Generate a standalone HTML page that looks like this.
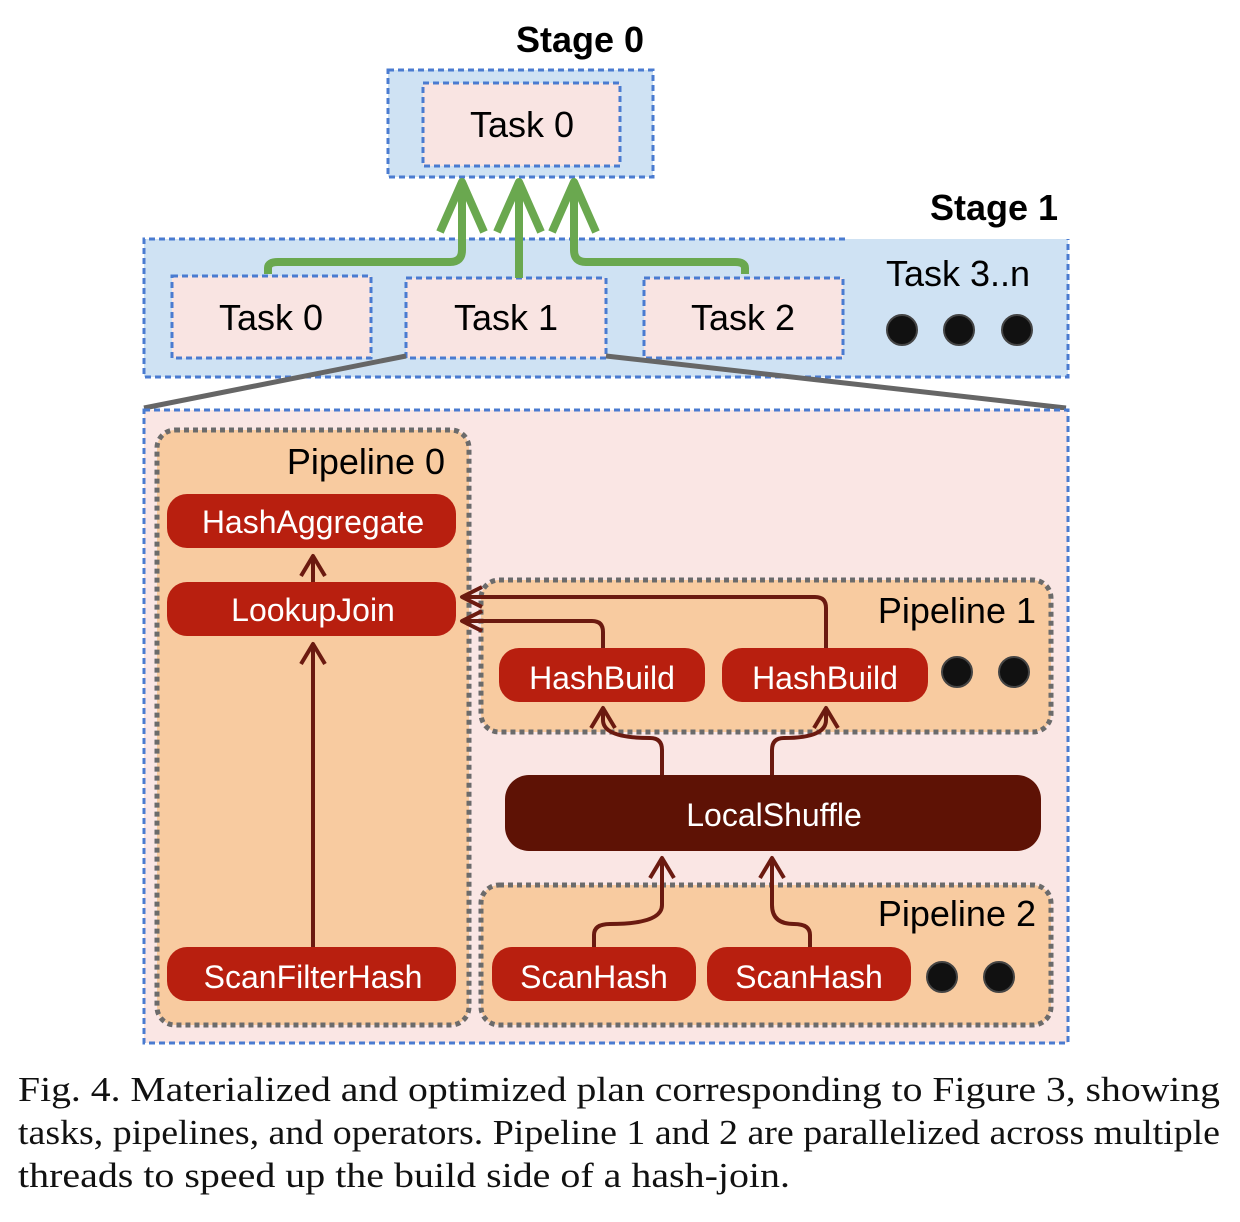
<!DOCTYPE html>
<html><head><meta charset="utf-8"><style>html,body{margin:0;padding:0;background:#fff}svg{display:block}</style></head><body>
<svg width="1240" height="1222" viewBox="0 0 1240 1222" xmlns="http://www.w3.org/2000/svg" font-family="Liberation Sans, sans-serif">
<!-- Stage 0 -->
<text x="580" y="52" font-size="36" font-weight="bold" text-anchor="middle">Stage 0</text>
<rect x="388" y="70" width="265" height="107" fill="#cfe2f3" stroke="#4a7bd0" stroke-width="3" stroke-dasharray="6,4"/>
<rect x="423" y="83" width="197" height="83" fill="#f9e4e2" stroke="#4a7bd0" stroke-width="3" stroke-dasharray="6,4"/>
<text x="522" y="137" font-size="36" text-anchor="middle">Task 0</text>
<!-- Stage 1 -->
<text x="1058" y="220" font-size="36" font-weight="bold" text-anchor="end">Stage 1</text>
<rect x="144" y="239" width="924" height="138" fill="#cfe2f3"/>
<path d="M845 239 H144 V377 H1068 V239" fill="none" stroke="#4a7bd0" stroke-width="3" stroke-dasharray="6,4"/>
<rect x="172" y="276" width="199" height="82" fill="#f9e4e2" stroke="#4a7bd0" stroke-width="3" stroke-dasharray="6,4"/>
<rect x="406" y="278" width="200" height="80" fill="#f9e4e2" stroke="#4a7bd0" stroke-width="3" stroke-dasharray="6,4"/>
<rect x="644" y="278" width="199" height="80" fill="#f9e4e2" stroke="#4a7bd0" stroke-width="3" stroke-dasharray="6,4"/>
<text x="271" y="330" font-size="36" text-anchor="middle">Task 0</text>
<text x="506" y="330" font-size="36" text-anchor="middle">Task 1</text>
<text x="743" y="330" font-size="36" text-anchor="middle">Task 2</text>
<text x="958" y="286" font-size="36" text-anchor="middle">Task 3..n</text>
<circle cx="902" cy="330" r="15" fill="#111" stroke="#444" stroke-width="2"/>
<circle cx="959" cy="330" r="15" fill="#111" stroke="#444" stroke-width="2"/>
<circle cx="1017" cy="330" r="15" fill="#111" stroke="#444" stroke-width="2"/>
<!-- green arrows -->
<g fill="none" stroke="#6aa84f" stroke-width="8" stroke-linejoin="round">
<path d="M268 274 V268 Q268 262 278 262 H450 Q462 262 462 250 V186"/>
<path d="M519 278 V186"/>
<path d="M745 274 V268 Q745 262 735 262 H586 Q574 262 574 250 V186"/>
<path d="M440 232 L462 182 L484 232"/>
<path d="M497 232 L519 182 L541 232"/>
<path d="M552 232 L574 182 L596 232"/>
</g>
<!-- zoom lines -->
<line x1="406" y1="356" x2="144" y2="408" stroke="#666" stroke-width="5"/>
<line x1="606" y1="356" x2="1066" y2="408" stroke="#666" stroke-width="5"/>
<!-- big box -->
<rect x="144" y="410" width="924" height="633" fill="#fae6e4" stroke="#4a7bd0" stroke-width="3" stroke-dasharray="6,4"/>
<g fill="#f8cba0" stroke="#6b6b6b" stroke-width="5" stroke-dasharray="5,4">
<rect x="157" y="430" width="312" height="595" rx="18"/>
<rect x="481" y="580" width="570" height="152" rx="18"/>
<rect x="481" y="885" width="570" height="140" rx="18"/>
</g>
<text x="445" y="474" font-size="36" text-anchor="end">Pipeline 0</text>
<text x="1036" y="623" font-size="36" text-anchor="end">Pipeline 1</text>
<text x="1036" y="926" font-size="36" text-anchor="end">Pipeline 2</text>
<!-- red arrows -->
<g fill="none" stroke="#6b1a10" stroke-width="4" stroke-linejoin="round">
<path d="M313 582 V556 M301 576 L313 556 L325 576"/>
<path d="M313 947 V644 M301 664 L313 644 L325 664"/>
<path d="M826 648 V608 Q826 597 815 597 H462 M482 587 L462 597 L482 607"/>
<path d="M603 648 V632 Q603 621 592 621 H462 M482 611 L462 621 L482 631"/>
<path d="M662 775 V750 Q662 738 650 738 Q603 738 603 720 V708 M591 728 L603 708 L615 728"/>
<path d="M772 775 V750 Q772 738 784 738 Q826 738 826 720 V708 M814 728 L826 708 L838 728"/>
<path d="M594 947 V935 Q594 924 610 924 Q662 924 662 905 V858 M650 878 L662 858 L674 878"/>
<path d="M810 947 V935 Q810 924 794 924 Q772 924 772 905 V858 M760 878 L772 858 L784 878"/>
</g>
<!-- operators -->
<g fill="#b81f0f">
<rect x="167" y="494" width="289" height="54" rx="20"/>
<rect x="167" y="582" width="289" height="54" rx="20"/>
<rect x="167" y="947" width="289" height="54" rx="20"/>
<rect x="499" y="648" width="206" height="54" rx="20"/>
<rect x="722" y="648" width="206" height="54" rx="20"/>
<rect x="492" y="947" width="204" height="54" rx="20"/>
<rect x="707" y="947" width="204" height="54" rx="20"/>
</g>
<rect x="505" y="775" width="536" height="76" rx="24" fill="#5e1205"/>
<g fill="#fff" font-size="32" text-anchor="middle">
<text x="313" y="533">HashAggregate</text>
<text x="313" y="621">LookupJoin</text>
<text x="313" y="988">ScanFilterHash</text>
<text x="602" y="689">HashBuild</text>
<text x="825" y="689">HashBuild</text>
<text x="594" y="988">ScanHash</text>
<text x="809" y="988">ScanHash</text>
<text x="774" y="826">LocalShuffle</text>
</g>
<g fill="#111" stroke="#444" stroke-width="2">
<circle cx="957" cy="672" r="15"/><circle cx="1014" cy="672" r="15"/>
<circle cx="942" cy="977" r="15"/><circle cx="999" cy="977" r="15"/>
</g>
<!-- caption -->
<g font-family="Liberation Serif, serif" font-size="35" fill="#111">
<text x="18" y="1101" textLength="1202" lengthAdjust="spacingAndGlyphs">Fig. 4.  Materialized and optimized plan corresponding to Figure 3, showing</text>
<text x="18" y="1144" textLength="1202" lengthAdjust="spacingAndGlyphs">tasks, pipelines, and operators. Pipeline 1 and 2 are parallelized across multiple</text>
<text x="18" y="1187" textLength="772" lengthAdjust="spacingAndGlyphs">threads to speed up the build side of a hash-join.</text>
</g>
</svg>
</body></html>
